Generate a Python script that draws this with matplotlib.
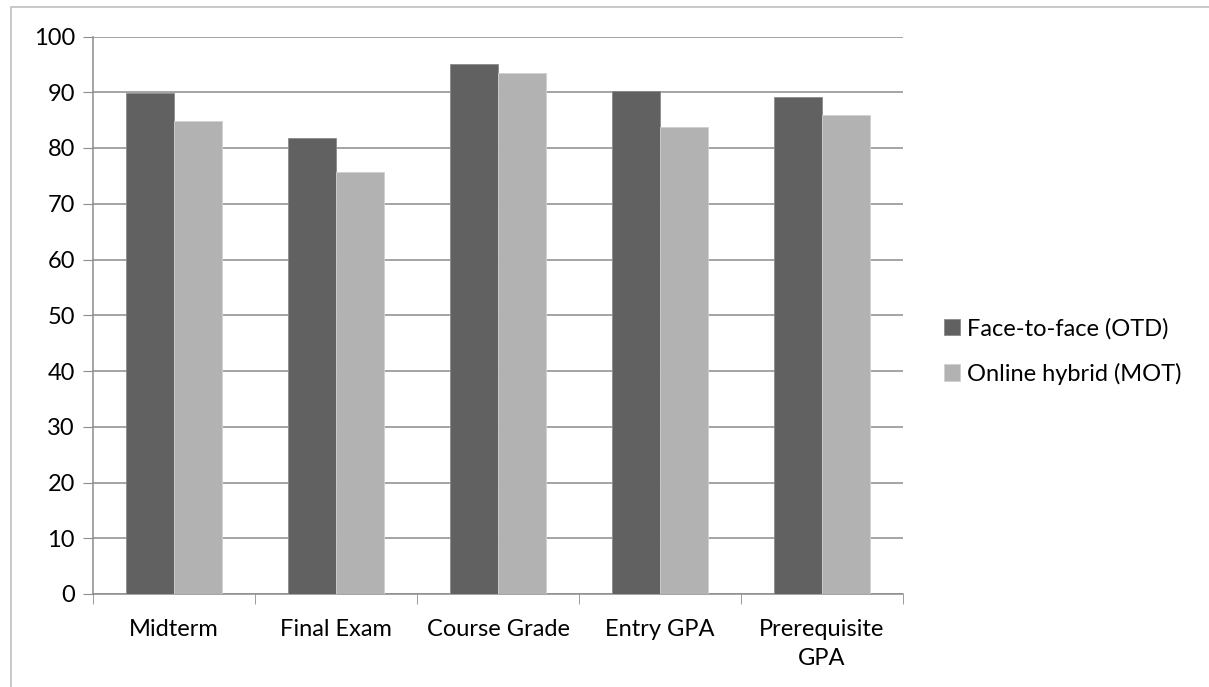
import numpy as np
import matplotlib.pyplot as plt
from matplotlib.patches import Rectangle

categories = ["Midterm", "Final Exam", "Course Grade", "Entry GPA", "Prerequisite\nGPA"]
face_to_face = [89.8, 81.8, 95.0, 90.2, 89.2]
online_hybrid = [84.8, 75.7, 93.5, 83.7, 86.0]
series_names = ["Face-to-face (OTD)", "Online hybrid (MOT)"]
y_ticks = list(range(0, 101, 10))

plt.rcParams['font.family'] = ['Lato', 'DejaVu Sans']

fig = plt.figure(figsize=(12.09, 6.87), dpi=100)
ax = fig.add_axes([93 / 1209, 1 - 594 / 687, 810 / 1209, (594 - 36.5) / 687])

# outer chart frame
fig.patches.append(Rectangle((11 / 1209, -0.1), 1.2, 1 - 7 / 687 + 0.1, transform=fig.transFigure,
                             fill=False, edgecolor='#bfbfbf', linewidth=1.2))

x = np.arange(len(categories))
w = 0.295
ax.bar(x - w / 2, face_to_face, w, color='#616161', edgecolor='#8a8a8a', linewidth=0.6,
       label=series_names[0], zorder=3)
ax.bar(x + w / 2, online_hybrid, w, color='#b2b2b2', edgecolor='#d0d0d0', linewidth=0.6,
       label=series_names[1], zorder=3)

ax.set_xlim(-0.5, len(categories) - 0.5)
ax.set_ylim(0, 100)
ax.set_yticks(y_ticks)
ax.set_yticklabels([str(t) for t in y_ticks], fontsize=17)
ax.yaxis.grid(True, color='#8c8c8c', linewidth=1.1, zorder=0)
ax.set_axisbelow(True)

ax.set_xticks(x)
ax.set_xticklabels(categories, fontsize=17, linespacing=1.45)
ax.set_xticks(np.arange(-0.5, len(categories), 1), minor=True)
ax.tick_params(axis='x', which='major', length=0, pad=18)
ax.tick_params(axis='x', which='minor', length=7, color='#8c8c8c', direction='out')
ax.tick_params(axis='y', length=7, color='#8c8c8c', pad=6)

for s in ['top', 'right']:
    ax.spines[s].set_visible(False)
for s in ['left', 'bottom']:
    ax.spines[s].set_color('#8c8c8c')
    ax.spines[s].set_linewidth(1.1)

ax.legend(loc='center left', bbox_to_anchor=(1.05, 0.435), frameon=False, fontsize=17,
          borderpad=0, borderaxespad=0,
          handlelength=0.68, handleheight=0.68, handletextpad=0.3, labelspacing=0.98)

fig.savefig("out.png", dpi=100)
